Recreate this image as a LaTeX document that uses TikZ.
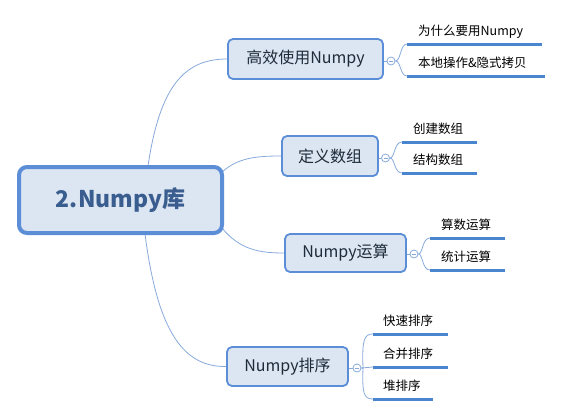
\documentclass[tikz,border=0pt]{standalone}
\usepackage{fontspec}
\setmainfont{Noto Sans CJK SC}
\definecolor{boxfill}{HTML}{DCE6F2}
\definecolor{boxdraw}{HTML}{5B8ED6}
\definecolor{linkc}{HTML}{87AADB}
\definecolor{ulc}{HTML}{4A86D0}
\definecolor{roottext}{HTML}{3A5D8F}
\definecolor{txt}{HTML}{1E2B3A}
\begin{document}
\begin{tikzpicture}[x=1pt,y=-1pt,
  rootbox/.style={draw=boxdraw,fill=boxfill,line width=4pt,rounded corners=8pt,
    minimum width=203pt,minimum height=66pt,inner sep=0pt,
    font=\fontsize{23}{26}\selectfont\bfseries,text=roottext},
  branchbox/.style={draw=boxdraw,fill=boxfill,line width=1.8pt,rounded corners=5pt,
    inner sep=0pt,font=\fontsize{16}{19}\selectfont,text=txt},
  leaftext/.style={anchor=base west,inner sep=0pt,font=\fontsize{12.5}{15}\selectfont,text=black},
  link/.style={draw=linkc,line width=0.8pt},
  uline/.style={draw=ulc,line width=3pt},
  toggle/.style={circle,draw=linkc,fill=white,line width=0.8pt,minimum size=8pt,inner sep=0pt,
    path picture={\draw[linkc,line width=0.7pt] ([xshift=-2pt]path picture bounding box.center) -- ([xshift=2pt]path picture bounding box.center);}}
]
\useasboundingbox (0,0) rectangle (563,416);

% branch boxes
\node[branchbox,minimum width=155pt,minimum height=40pt] (b1) at (305.5,59) {高效使用Numpy};
\node[branchbox,minimum width=96pt,minimum height=40pt] (b2) at (330,156) {定义数组};
\node[branchbox,minimum width=121pt,minimum height=38pt] (b3) at (345.5,253) {Numpy运算};
\node[branchbox,minimum width=121pt,minimum height=39pt] (b4) at (287.5,366.5) {Numpy排序};

% root
\coordinate (r1) at (148,166);
\coordinate (r2) at (222,172);
\coordinate (r3) at (222,228);
\coordinate (r4) at (145,234);
\draw[link] (r1) .. controls (160,85) and (185,59) .. (b1.west);
\draw[link] (r2) .. controls (238,158) and (255,156) .. (b2.west);
\draw[link] (r3) .. controls (240,250) and (260,253) .. (b3.west);
\draw[link] (r4) .. controls (158,335) and (185,367) .. (b4.west);
\node[rootbox] (root) at (120.5,200) {2.Numpy库};

% toggles
\node[toggle] (t1) at (391,61) {};
\node[toggle] (t2) at (385.5,158) {};
\node[toggle] (t3) at (414,254) {};
\node[toggle] (t4) at (357,368) {};
\draw[link] (b1.east |- t1) -- (t1.west);
\draw[link] (b2.east |- t2) -- (t2.west);
\draw[link] (b3.east |- t3) -- (t3.west);
\draw[link] (b4.east |- t4) -- (t4.west);

% leaves: branch 1
\coordinate (l11) at (407,44);
\coordinate (l12) at (407,76);
\draw[uline] (l11) -- ++(135,0);
\draw[uline] (l12) -- ++(138,0);
\node[leaftext] (n11) at (418,35) {为什么要用Numpy};
\node[leaftext] (n12) at (418,67) {本地操作\&隐式拷贝};
\draw[link] (t1.east) .. controls (401,61) and (400,44) .. (l11);
\draw[link] (t1.east) .. controls (401,61) and (400,76) .. (l12);

% leaves: branch 2
\coordinate (l21) at (402,142);
\coordinate (l22) at (402,173);
\draw[uline] (l21) -- ++(75,0);
\draw[uline] (l22) -- ++(75,0);
\node[leaftext] (n21) at (413,133) {创建数组};
\node[leaftext] (n22) at (413,164) {结构数组};
\draw[link] (t2.east) .. controls (395,158) and (394,142) .. (l21);
\draw[link] (t2.east) .. controls (395,158) and (394,173) .. (l22);

% leaves: branch 3
\coordinate (l31) at (430,238);
\coordinate (l32) at (430,270);
\draw[uline] (l31) -- ++(75,0);
\draw[uline] (l32) -- ++(75,0);
\node[leaftext] (n31) at (441,229) {算数运算};
\node[leaftext] (n32) at (441,261) {统计运算};
\draw[link] (t3.east) .. controls (423,254) and (422,238) .. (l31);
\draw[link] (t3.east) .. controls (423,254) and (422,270) .. (l32);

% leaves: branch 4
\coordinate (l41) at (373,334);
\coordinate (l42) at (373,367);
\coordinate (l43) at (373,399);
\draw[uline] (l41) -- ++(75,0);
\draw[uline] (l42) -- ++(75,0);
\draw[uline] (l43) -- ++(60,0);
\node[leaftext] (n41) at (383,325) {快速排序};
\node[leaftext] (n42) at (383,358) {合并排序};
\node[leaftext] (n43) at (383,390) {堆排序};
\draw[link] (t4.east) -- (363,368) .. controls (362,340) and (364,334) .. (l41);
\draw[link] (t4.east) -- (l42);
\draw[link] (t4.east) -- (363,368) .. controls (362,394) and (364,399) .. (l43);
\end{tikzpicture}
\end{document}
